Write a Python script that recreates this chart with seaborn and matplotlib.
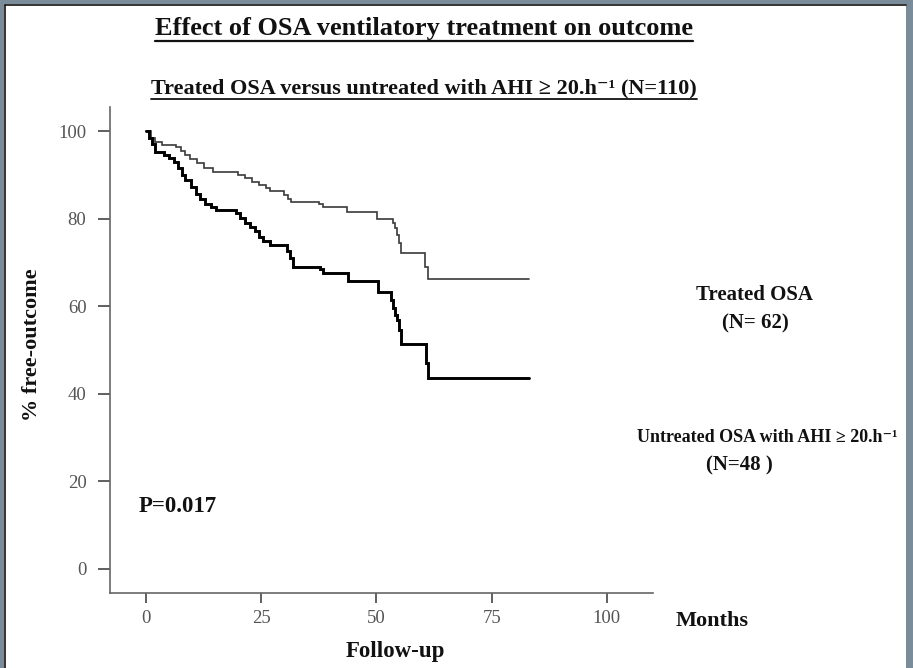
import matplotlib
matplotlib.use("Agg")
import matplotlib.pyplot as plt
from matplotlib.lines import Line2D
from matplotlib.patches import Rectangle
import seaborn as sns
import pandas as pd

# Kaplan-Meier steps (months, % free of outcome)
treated_months = [0, 1, 2, 3.5, 6.5, 7.5, 8.5, 9.5, 11, 12.5, 14.5, 20, 21.5, 23, 24.5, 26, 27,
                  30, 30.8, 31.5, 37.5, 38.5, 43.7, 50.2, 53.5, 54, 54.5, 55, 55.4, 60.6, 61.1, 83]
treated_pct = [100, 98.4, 97.4, 96.8, 96.3, 95.4, 94.6, 93.6, 92.6, 91.6, 90.6, 90.0, 89.2, 88.3,
               87.6, 86.9, 86.3, 85.5, 84.6, 83.8, 83.3, 82.7, 81.6, 79.9, 79.0, 77.8, 76.3, 74.5,
               72.2, 69.0, 66.3, 66.3]

untreated_months = [0, 0.7, 1.3, 2, 4, 5, 6, 7, 7.8, 8.5, 9.8, 10.8, 11.8, 12.8, 14.2, 15.3, 19.5,
                    20.4, 21.5, 22.5, 23.6, 24.5, 25.5, 27, 30.5, 31.2, 31.8, 37.7, 38.5, 43.9,
                    50.4, 53.2, 53.6, 54, 54.4, 55, 55.4, 60.7, 61.1, 83]
untreated_pct = [100, 98.5, 97.0, 95.3, 94.6, 93.8, 93.0, 91.5, 90.0, 88.8, 87.3, 85.6, 84.5, 83.4,
                 82.6, 82.0, 81.2, 80.2, 79.0, 78.2, 77.2, 75.8, 75.0, 74.0, 72.5, 71.0, 69.0, 68.6,
                 67.5, 65.8, 63.3, 61.4, 59.5, 58.0, 56.8, 54.6, 51.4, 47.0, 43.7, 43.7]

x_ticks = [0, 25, 50, 75, 100]
y_ticks = [0, 20, 40, 60, 80, 100]

treated = pd.DataFrame({"months": treated_months, "pct": treated_pct})
untreated = pd.DataFrame({"months": untreated_months, "pct": untreated_pct})

sns.set_style("ticks")
plt.rcParams['font.family'] = ['Liberation Serif', 'DejaVu Serif']

W, H = 913, 668
fig = plt.figure(figsize=(W / 100, H / 100), dpi=100)
ax = fig.add_axes([110 / W, 1 - 593 / H, (653 - 110) / W, (593 - 107) / H])

sns.lineplot(data=treated, x="months", y="pct", ax=ax, color="#3a3a3a", linewidth=1.2,
             drawstyle="steps-post", estimator=None, sort=False, solid_joinstyle="miter")
sns.lineplot(data=untreated, x="months", y="pct", ax=ax, color="black", linewidth=2.1,
             drawstyle="steps-post", estimator=None, sort=False, solid_joinstyle="miter")

ax.set_xlim(-7.8, 110)
ax.set_ylim(-5.5, 105.5)
ax.set_xticks(x_ticks)
ax.set_yticks(y_ticks)
ax.set_xlabel("")
ax.set_ylabel("")
sns.despine(ax=ax)
for s in ["left", "bottom"]:
    ax.spines[s].set_color("#666666")
    ax.spines[s].set_linewidth(1.2)
ax.tick_params(axis="y", length=9, width=1.2, pad=8, color="#444444", labelcolor="#555555", labelsize=13.5)
ax.tick_params(axis="x", length=7, width=1.2, pad=5, color="#444444", labelcolor="#555555", labelsize=13.5)

bold = dict(fontweight="bold", color="#111111")
title = fig.text(424 / W, 1 - 28 / H, "Effect of OSA ventilatory treatment on outcome",
                 ha="center", va="center", fontsize=19, **bold)
sub = fig.text(424 / W, 1 - 88 / H, "Treated OSA versus untreated with AHI \u2265 20.h\u207b\u00b9 (N=110)",
               ha="center", va="center", fontsize=16, **bold)

fig.text(32 / W, 1 - 345 / H, "% free-outcome", rotation=90, ha="center", va="center",
         fontsize=16, **bold)
fig.text(178 / W, 1 - 507 / H, "P=0.017", ha="center", va="center", fontsize=16.5, **bold)
fig.text(712 / W, 1 - 621 / H, "Months", ha="center", va="center", fontsize=16, **bold)
fig.text(395 / W, 1 - 652 / H, "Follow-up", ha="center", va="center", fontsize=16.5, **bold)
fig.text(754 / W, 1 - 295 / H, "Treated OSA", ha="center", va="center", fontsize=15, **bold)
fig.text(755 / W, 1 - 323 / H, "(N= 62)", ha="center", va="center", fontsize=15, **bold)
fig.text(767 / W, 1 - 438 / H, "Untreated OSA with AHI \u2265 20.h\u207b\u00b9", ha="center", va="center",
         fontsize=13, **bold)
fig.text(739 / W, 1 - 465 / H, "(N=48 )", ha="center", va="center", fontsize=15, **bold)

# underline the two headings
fig.canvas.draw()
r = fig.canvas.get_renderer()
for t, lw in [(title, 1.6), (sub, 1.3)]:
    bb = t.get_window_extent(r)
    y = bb.y0 - 1
    fig.add_artist(Line2D([bb.x0 / W, bb.x1 / W], [y / H, y / H], transform=fig.transFigure,
                          color="#111111", linewidth=lw))

# picture frame
frame = "#7a8c99"
fig.add_artist(Rectangle((0, 0), 4 / W, 1, transform=fig.transFigure, color=frame, lw=0))
fig.add_artist(Rectangle((0, 1 - 4 / H), 1, 4 / H, transform=fig.transFigure, color=frame, lw=0))
fig.add_artist(Rectangle((1 - 7 / W, 0), 7 / W, 1, transform=fig.transFigure, color=frame, lw=0))
fig.add_artist(Line2D([4.5 / W, 4.5 / W], [0, 1 - 4.5 / H], transform=fig.transFigure, color="#111111", lw=1.2))
fig.add_artist(Line2D([4.5 / W, 1 - 7 / W], [1 - 4.5 / H, 1 - 4.5 / H], transform=fig.transFigure,
                      color="#111111", lw=1.2))

fig.savefig("out.png", dpi=100)
